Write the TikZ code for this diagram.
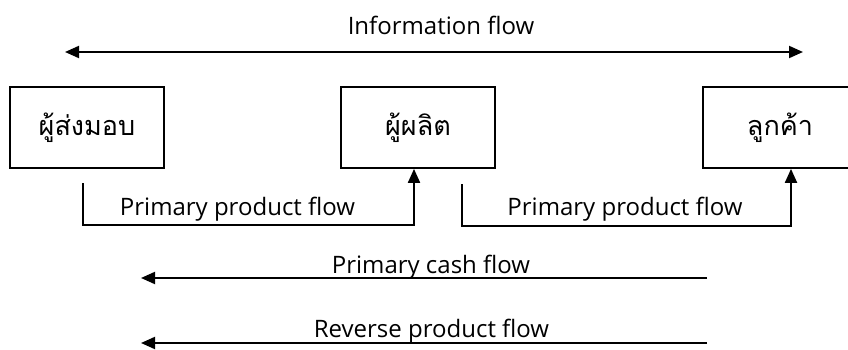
\documentclass[tikz,border=0pt]{standalone}
\usepackage{fontspec}
\setmainfont{Open Sans}
\newfontfamily\thaifont[Script=Thai]{Loma}
\usetikzlibrary{arrows.meta}
\begin{document}
\begin{tikzpicture}[x=1pt,y=-1pt,
  box/.style={draw,line width=1.8pt,minimum width=154pt,minimum height=81pt,
    inner sep=0pt,font=\thaifont\fontsize{27}{32}\selectfont},
  tip/.tip={Triangle[length=14pt,width=12pt]},
  flow/.style={line width=2pt,-tip},
  lbl/.style={font=\fontsize{24}{28}\selectfont,inner sep=0pt,anchor=base}]
\useasboundingbox (0,0) rectangle (848,350);

% actors
\node[box] (b1) at (87,127.5) {ผู้ส่งมอบ};
\node[box] (b2) at (418,127.5) {ผู้ผลิต};
\node[box] (b3) at (780,127.5) {ลูกค้า};

% information flow (both directions)
\coordinate (iL) at (65,52);
\coordinate (iR) at (803,52);
\draw[line width=2pt,tip-tip] (iL) -- (iR);
\node[lbl] (tInfo) at (441,35) {Information flow};

% primary product flows
\coordinate (p1s) at (83,183);
\coordinate (p1c) at (414,225);
\draw[flow] (p1s) |- (p1c) -- (p1c |- b2.south);
\node[lbl] (tP1) at (237.5,215) {Primary product flow};

\coordinate (p2s) at (462,184);
\coordinate (p2c) at (791,226);
\draw[flow] (p2s) |- (p2c) -- (p2c |- b3.south);
\node[lbl] (tP2) at (625,215) {Primary product flow};

% cash and reverse flows
\coordinate (cR) at (707,278);
\coordinate (cL) at (141,278);
\draw[flow] (cR) -- (cL);
\node[lbl] (tCash) at (431,273) {Primary cash flow};

\coordinate (rR) at (707,343);
\coordinate (rL) at (141,343);
\draw[flow] (rR) -- (rL);
\node[lbl] (tRev) at (431.5,337) {Reverse product flow};
\end{tikzpicture}
\end{document}
